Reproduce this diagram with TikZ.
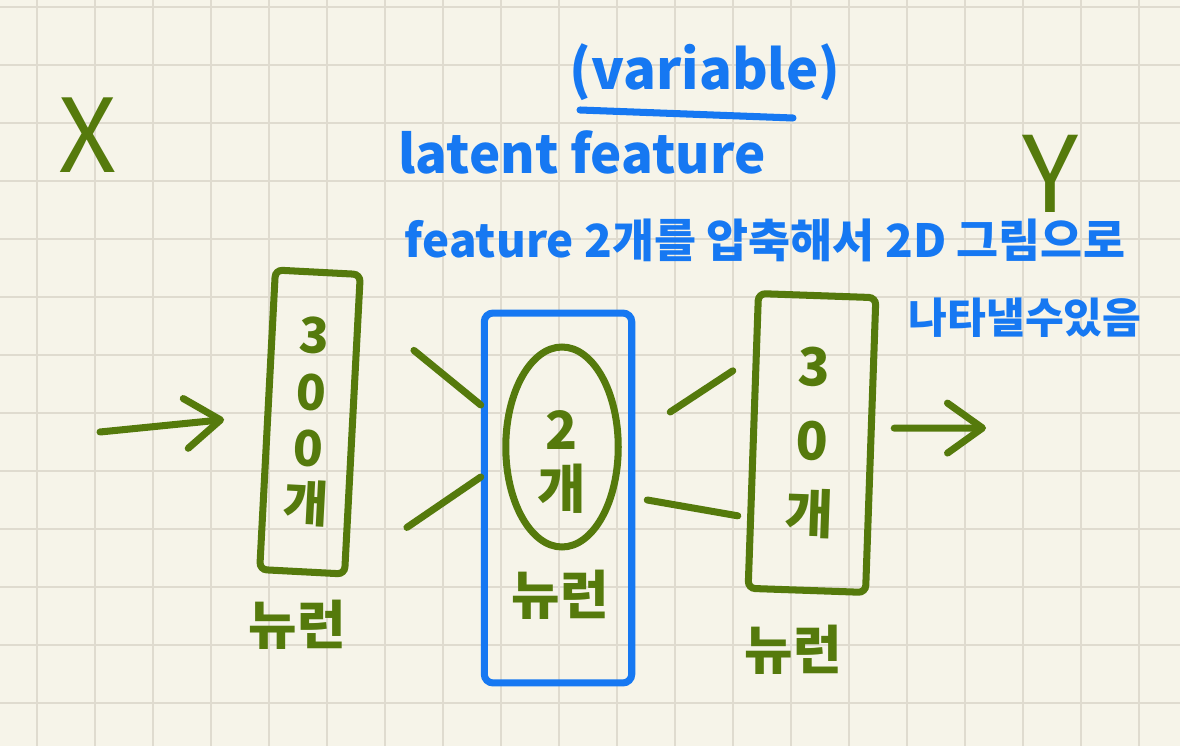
\documentclass[tikz,border=0pt]{standalone}
\usepackage{fontspec}
\setmainfont{Noto Sans CJK KR}
\usetikzlibrary{shapes.geometric,arrows.meta}
\definecolor{paper}{HTML}{F6F4E9}
\definecolor{gridc}{HTML}{DFDBCF}
\definecolor{pen}{HTML}{557A0C}
\definecolor{ink}{HTML}{1678F2}
\tikzset{
	layer/.style={draw=pen, text=pen, line width=4pt, rounded corners=4pt, align=center},
	code/.style={draw=ink, line width=4pt, rounded corners=5pt},
	note/.style={text=ink, inner sep=0pt},
	word/.style={text=pen, inner sep=0pt, align=center},
	link/.style={draw=pen, line width=4pt, line cap=round},
	arr/.style={link, -{Straight Barb[length=0.7cm, width=1.0cm, round]}},
}
\newcommand{\fs}[1]{\fontsize{#1}{#1}\selectfont}

\begin{document}
\begin{tikzpicture}[x=0.02cm, y=-0.02cm]
	\useasboundingbox (0,0) rectangle (1180,746);
	\fill[paper] (0,0) rectangle (1180,746);
	% paper grid
	\foreach \gx in {37,95,...,1180}
		\draw[gridc, line width=1.2pt] (\gx,0) -- (\gx,746);
	\foreach \gy in {7,65,...,746}
		\draw[gridc, line width=1.2pt] (0,\gy) -- (1180,\gy);

	% input / output
	\node[word, font=\fs{58}] (xin) at (88,135) {X};
	\node[word, font=\fs{60}] (yout) at (1050,174) {Y};

	% three layers
	\node[layer, rotate=-3, minimum width=1.7cm, minimum height=6.0cm,
		font=\bfseries\fontsize{28}{32}\selectfont] (enc) at (310,422) {3\\0\\0\\개};
	\node[code, minimum width=2.95cm, minimum height=7.4cm] (mid) at (558,498) {};
	\node[layer, rotate=-2, minimum width=2.35cm, minimum height=5.9cm,
		font=\bfseries\fontsize{30}{42}\selectfont] (dec) at (812,443) {3\\0\\개};

	% latent units
	\node[draw=pen, line width=4pt, ellipse, minimum width=2.25cm, minimum height=4.0cm] (lat) at (562,447) {};
	\node[word, font=\bfseries\fontsize{30}{34}\selectfont] (two) at (562,462) {2\\개};

	% neuron labels
	\node[word, font=\bfseries\fs{30}] (n1) at (297,625) {뉴런};
	\node[word, font=\bfseries\fs{30}] (n2) at (560,595) {뉴런};
	\node[word, font=\bfseries\fs{30}] (n3) at (793,650) {뉴런};

	% arrows in and out
	\coordinate (src) at (100,432);
	\coordinate (dst) at (986,428);
	\draw[arr] (src) -- ([xshift=-0.8cm]enc.west);
	\draw[arr] ([shift={(20,-17)}]dec.east) -- (dst);

	% connections
	\draw[link] ([shift={(58,-74)}]enc.east) -- ([shift={(0,-93)}]mid.west);
	\draw[link] ([shift={(51,103)}]enc.east) -- ([shift={(0,-21)}]mid.west);
	\draw[link] ([shift={(35,-86)}]mid.east) -- ([shift={(-17,-70)}]dec.west);
	\draw[link] ([shift={(12,2)}]mid.east) -- ([shift={(-12,75)}]dec.west);

	% notes
	\node[note, font=\bfseries\fs{31}] (var) at (705,72) {(variable)};
	\draw[ink, line width=4pt, line cap=round] (580,110) -- (793,118);
	\node[note, font=\bfseries\fs{30}] (lf) at (582,152) {latent feature};
	\node[note, font=\bfseries\fs{26}] (cmp) at (765,240) {feature 2개를 압축해서 2D 그림으로};
	\node[note, font=\bfseries\fs{24}] (show) at (1025,318) {나타낼수있음};
\end{tikzpicture}
\end{document}
